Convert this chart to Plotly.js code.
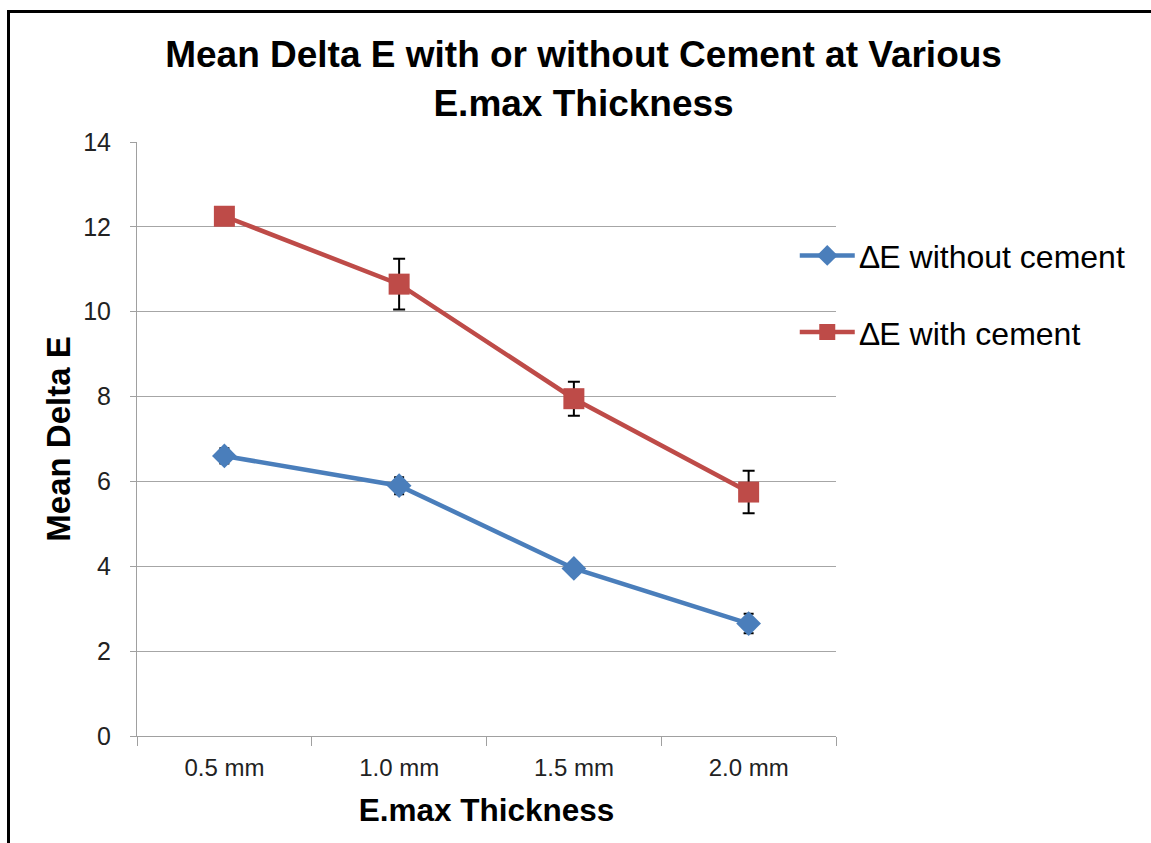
<!DOCTYPE html>
<html>
<head>
<meta charset="utf-8">
<script src="https://cdn.plot.ly/plotly-3.0.1.min.js"></script>
<style>
html,body{margin:0;padding:0;background:#fff;}
#wrap{position:relative;width:1151px;height:843px;overflow:hidden;}
#chart{width:1151px;height:843px;}
#frame{position:absolute;left:7px;top:10px;width:1200px;height:900px;border-left:3px solid #000;border-top:3px solid #000;pointer-events:none;}
</style>
</head>
<body>
<div id="wrap"><div id="chart"></div><div id="frame"></div></div>
<script>
const categories = ["0.5 mm", "1.0 mm", "1.5 mm", "2.0 mm"];
const withoutCement = [6.6, 5.9, 3.95, 2.65];
const withoutCementErr = [0.18, 0.2, 0.1, 0.23];
const withCement = [12.25, 10.65, 7.95, 5.75];
const withCementErr = [0.1, 0.6, 0.4, 0.5];
const yTicks = [0, 2, 4, 6, 8, 10, 12, 14];

const traces = [
  {
    x: categories, y: withoutCement, name: "\u2206E without cement",
    type: "scatter", mode: "lines+markers", legendgroup: "a",
    line: {color: "#4a7ebb", width: 4.5},
    marker: {symbol: "diamond", size: 19, color: "#4a7ebb"},
    error_y: {type: "data", array: withoutCementErr, visible: true, color: "#000", thickness: 2, width: 5}
  },
  {
    x: categories, y: withCement, name: "\u2206E with cement",
    type: "scatter", mode: "lines+markers", legendgroup: "b",
    line: {color: "#be4b48", width: 4.5},
    marker: {symbol: "square", size: 21, color: "#be4b48"},
    error_y: {type: "data", array: withCementErr, visible: true, color: "#000", thickness: 2, width: 6}
  }
];

const layout = {
  width: 1151, height: 843,
  paper_bgcolor: "#fff", plot_bgcolor: "#fff",
  margin: {l: 137, r: 315, t: 142, b: 107, autoexpand: false},
  title: {
    text: "Mean Delta E with or without Cement at Various<br>E.max Thickness",
    font: {family: "Liberation Sans, Arial, sans-serif", size: 37, color: "#000", weight: "bold"},
    x: 0.507, xanchor: "center", y: 0.92, yanchor: "top", yref: "container"
  },
  showlegend: true,
  legend: {
    x: 0.941, xanchor: "left", y: 0.855, yanchor: "top",
    font: {family: "Liberation Sans, Arial, sans-serif", size: 32, color: "#000"},
    traceorder: "grouped", tracegroupgap: 32, itemwidth: 55,
    bgcolor: "rgba(0,0,0,0)"
  },
  xaxis: {
    type: "category",
    tickvals: categories,
    ticktext: categories,
    tickson: "boundaries",
    ticks: "outside", ticklen: 9, tickcolor: "#a0a0a0", tickwidth: 1,
    ticklabelstandoff: 10,
    showline: true, linecolor: "#a0a0a0", linewidth: 1,
    showgrid: false, zeroline: false,
    tickfont: {family: "Liberation Sans Narrow, Arial Narrow, sans-serif", size: 24, color: "#222"},
    title: {text: "E.max Thickness", standoff: 19,
      font: {family: "Liberation Sans, Arial, sans-serif", size: 31.5, color: "#000", weight: "bold"}},
    range: [-0.5, 3.5]
  },
  yaxis: {
    range: [0, 14],
    tickvals: yTicks,
    ticktext: yTicks.map(String),
    ticks: "outside", ticklen: 6, tickcolor: "#a0a0a0", tickwidth: 1,
    ticklabelstandoff: 14,
    showline: true, linecolor: "#a0a0a0", linewidth: 1,
    showgrid: true, gridcolor: "#a6a6a6", gridwidth: 1,
    zeroline: false,
    tickfont: {family: "Liberation Sans, Arial, sans-serif", size: 25, color: "#222"},
    title: {text: "Mean Delta E", standoff: 2,
      font: {family: "Liberation Sans, Arial, sans-serif", size: 33, color: "#000", weight: "bold"}}
  }
};

Plotly.newPlot("chart", traces, layout, {displayModeBar: false, staticPlot: true});
</script>
</body>
</html>
